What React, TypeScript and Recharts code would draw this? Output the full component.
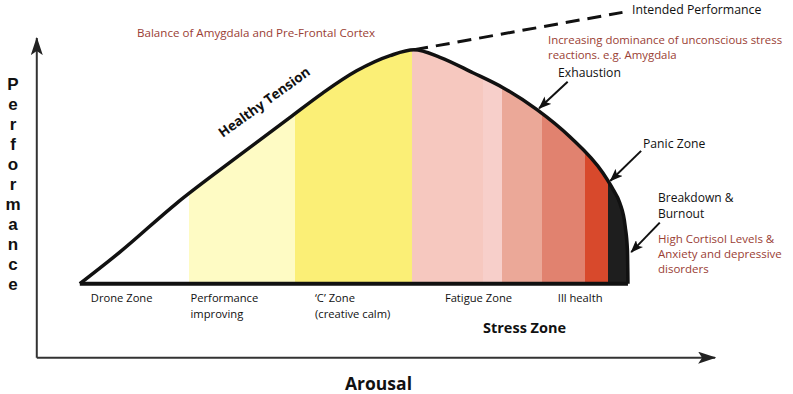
import { ComposedChart, Area, Line, XAxis, YAxis, ReferenceLine } from 'recharts'

// curve: arousal (0..100 along the baseline) vs performance (peak = 100)
const AROUSAL = [0, 7.3, 17.7, 28.6, 38.3, 44.3, 50.5, 56.6, 61, 65.7, 71.7, 77.2, 83.4, 89.4, 95.4, 97.3, 98.5, 99.5, 99.9, 100]
const PERFORMANCE = [0, 13.5, 34.5, 54, 71, 81.5, 91, 97.5, 100, 96.8, 90.2, 83.8, 74.4, 62.8, 47.4, 40.2, 34.6, 24.4, 14.5, 0]

// coloured zones under the curve (start of each zone on the arousal scale)
const ZONE_START = [0, 19.9, 39.2, 60.6, 73.5, 77.0, 84.3, 92.2, 96.4]
const ZONE_COLORS = ['#ffffff', '#fefbc4', '#fbef76', '#f6c8bf', '#f7cfca', '#eba898', '#e1826f', '#d8492c', '#1e1e1e']

// dashed "intended performance" line
const INTENDED_X = [61, 99]
const INTENDED_Y = [100, 116]

const ZONE_LABELS = [
  { a: 2, lines: ['Drone Zone'] },
  { a: 20.2, lines: ['Performance', 'improving'] },
  { a: 42.9, lines: ['\u2018C\u2019 Zone', '(creative calm)'] },
  { a: 66.6, lines: ['Fatigue Zone'] },
  { a: 87.2, lines: ['Ill health'] },
]

// annotation arrows: from (a1,p1) to tip (a2,p2)
const NOTE_ARROWS = [
  { from: [89.0, 86.3], to: [83.8, 75.0] },
  { from: [102.4, 56.8], to: [96.8, 44.0] },
  { from: [105.8, 26.1], to: [100.6, 13.5] },
]

const AXIS_ORIGIN = [-7.85, -31.6]
const X_AXIS_END = 115.9
const Y_AXIS_END = 105

const W = 793
const H = 394
const FONT = '"Open Sans", "Noto Sans", sans-serif'
const NOTE_RED = '#9a4034'

const curveData = AROUSAL.map((a, i) => ({ a, perf: PERFORMANCE[i] }))
const intendedData = INTENDED_X.map((a, i) => ({ a, v: INTENDED_Y[i] }))

const zoneStops = ZONE_START.flatMap((s, i) => {
  const end = i < ZONE_START.length - 1 ? ZONE_START[i + 1] : 100
  return [
    { off: s / 100, color: ZONE_COLORS[i] },
    { off: end / 100, color: ZONE_COLORS[i] },
  ]
})

// margins chosen so arousal 0..100 sits at 80..628px and performance 0 at y=284
const MARGIN = { top: 3, right: 28, bottom: 5, left: 25 }
const X_DOMAIN = [-10, 125]
const Y_DOMAIN = [-45, 120]
const plotW = W - MARGIN.left - MARGIN.right
const plotH = H - MARGIN.top - MARGIN.bottom
const px = (a: number) => MARGIN.left + ((a - X_DOMAIN[0]) / (X_DOMAIN[1] - X_DOMAIN[0])) * plotW
const py = (p: number) => MARGIN.top + ((Y_DOMAIN[1] - p) / (Y_DOMAIN[1] - Y_DOMAIN[0])) * plotH

const arrowLine = (marker: string, width: number, color: string) => (p: any) => (
  <line x1={p.x1} y1={p.y1} x2={p.x2} y2={p.y2} stroke={color} strokeWidth={width} markerEnd={`url(#${marker})`} />
)

export default function App() {
  return (
    <div style={{ position: 'absolute', left: 0, top: 0, width: W, height: H, background: '#fff' }}>
      <ComposedChart width={W} height={H} margin={MARGIN}>
        <defs>
          <linearGradient id="zones" x1="0" y1="0" x2="1" y2="0">
            {zoneStops.map((s, i) => (
              <stop key={i} offset={s.off} stopColor={s.color} />
            ))}
          </linearGradient>
          <marker id="axisHead" markerUnits="userSpaceOnUse" markerWidth={18} markerHeight={12} viewBox="0 0 18 12" refX={17} refY={6} orient="auto">
            <path d="M0,0 L18,6 L0,12 L4,6 Z" fill="#222" />
          </marker>
          <marker id="noteHead" markerUnits="userSpaceOnUse" markerWidth={13} markerHeight={10} viewBox="0 0 13 10" refX={12} refY={5} orient="auto">
            <path d="M0,0 L13,5 L0,10 L3,5 Z" fill="#111" />
          </marker>
        </defs>
        <XAxis type="number" dataKey="a" domain={X_DOMAIN} hide />
        <YAxis type="number" domain={Y_DOMAIN} hide />

        {/* outer axes */}
        <ReferenceLine
          segment={[{ x: AXIS_ORIGIN[0], y: AXIS_ORIGIN[1] }, { x: X_AXIS_END, y: AXIS_ORIGIN[1] }]}
          ifOverflow="visible"
          shape={arrowLine('axisHead', 2, '#333')}
        />
        <ReferenceLine
          segment={[{ x: AXIS_ORIGIN[0], y: AXIS_ORIGIN[1] }, { x: AXIS_ORIGIN[0], y: Y_AXIS_END }]}
          ifOverflow="visible"
          shape={arrowLine('axisHead', 2, '#333')}
        />

        <Area
          data={curveData}
          dataKey="perf"
          type="monotone"
          baseValue={0}
          fill="url(#zones)"
          fillOpacity={1}
          stroke="#111"
          strokeWidth={3.5}
          isAnimationActive={false}
        />
        <ReferenceLine
          segment={[{ x: 0, y: 0 }, { x: 100, y: 0 }]}
          stroke="#111"
          strokeWidth={4}
          ifOverflow="visible"
        />
        <Line
          data={intendedData}
          dataKey="v"
          type="linear"
          stroke="#111"
          strokeWidth={3}
          strokeDasharray="14 8"
          dot={false}
          isAnimationActive={false}
        />

        {NOTE_ARROWS.map((n, i) => (
          <ReferenceLine
            key={i}
            segment={[{ x: n.from[0], y: n.from[1] }, { x: n.to[0], y: n.to[1] }]}
            ifOverflow="visible"
            shape={arrowLine('noteHead', 2, '#111')}
          />
        ))}

        {/* texts */}
        <g fontFamily={FONT}>
          <text x={137} y={37} fontSize={11.6} fill={NOTE_RED}>Balance of Amygdala and Pre-Frontal Cortex</text>
          <text x={632} y={14} fontSize={12.3} fill="#111">Intended Performance</text>
          <text x={548} y={44} fontSize={11.4} fill={NOTE_RED}>Increasing dominance of unconscious stress</text>
          <text x={548} y={59} fontSize={11.4} fill={NOTE_RED}>reactions. e.g. Amygdala</text>
          <text x={558} y={77} fontSize={12.2} fill="#111">Exhaustion</text>
          <text x={643} y={148} fontSize={12.2} fill="#111">Panic Zone</text>
          <text x={658} y={202} fontSize={12} fill="#111">Breakdown &amp;</text>
          <text x={658} y={218} fontSize={12} fill="#111">Burnout</text>
          <text x={658} y={243} fontSize={11.5} fill={NOTE_RED}>High Cortisol Levels &amp;</text>
          <text x={658} y={258} fontSize={11.5} fill={NOTE_RED}>Anxiety and depressive</text>
          <text x={658} y={273} fontSize={11.5} fill={NOTE_RED}>disorders</text>
          <text
            x={267}
            y={106}
            fontSize={13.5}
            fontWeight="bold"
            fill="#111"
            textAnchor="middle"
            transform="rotate(-36 267 106)"
          >
            Healthy Tension
          </text>
          {ZONE_LABELS.map((z) =>
            z.lines.map((l, j) => (
              <text key={l} x={px(z.a)} y={py(0) + 18 + j * 16} fontSize={11.2} fill="#111">
                {l}
              </text>
            ))
          )}
          <text x={483} y={333} fontSize={14.5} fontWeight="bold" fill="#111">Stress Zone</text>
          <text x={345} y={390} fontSize={17.5} fontWeight="bold" fill="#111">Arousal</text>
          <text fontFamily='"Liberation Sans", Arial, sans-serif' fontSize={17} fontWeight="bold" fill="#111" textAnchor="middle">
            {'Performance'.split('').map((c, i) => (
              <tspan key={i} x={13} y={90 + i * 20}>
                {c}
              </tspan>
            ))}
          </text>
        </g>
      </ComposedChart>
    </div>
  )
}
